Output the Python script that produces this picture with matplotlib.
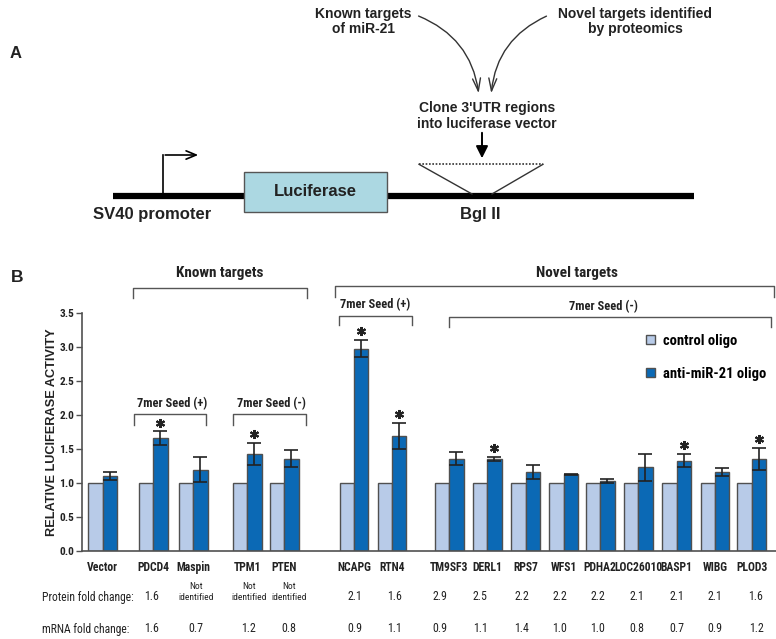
import matplotlib
matplotlib.use('Agg')
import matplotlib.pyplot as plt
from matplotlib.patches import Rectangle, FancyArrowPatch, Patch
from matplotlib import font_manager as fm
import numpy as np

# pick a condensed family if one is installed, otherwise shrink a regular one
_names = {f.name for f in fm.fontManager.ttflist}
NARROW_NAME, SC = 'Liberation Sans', 0.82
for _cand in ['Liberation Sans Narrow', 'Roboto Condensed', 'Arial Narrow', 'Open Sans Condensed']:
    if _cand in _names:
        NARROW_NAME, SC = _cand, 1.0
        break
NARROW = [NARROW_NAME, 'DejaVu Sans']
WIDE = ['Liberation Sans', 'DejaVu Sans']
plt.rcParams['font.family'] = NARROW

# ---------------- data ----------------
genes = ["Vector", "PDCD4", "Maspin", "TPM1", "PTEN", "NCAPG", "RTN4",
         "TM9SF3", "DERL1", "RPS7", "WFS1", "PDHA2", "LOC26010", "BASP1",
         "WIBG", "PLOD3"]
control_oligo = [1.0] * 16
anti_mir21 = [1.10, 1.66, 1.20, 1.43, 1.36, 2.98, 1.69,
              1.36, 1.36, 1.16, 1.13, 1.03, 1.23, 1.33, 1.16, 1.36]
anti_err = [0.06, 0.10, 0.19, 0.16, 0.13, 0.13, 0.19,
            0.10, 0.03, 0.10, 0.01, 0.03, 0.20, 0.10, 0.06, 0.16]
significant = [False, True, False, True, False, True, True,
               False, True, False, False, False, False, True, False, True]
protein_fold = ["", "1.6", "Not\nidentified", "Not\nidentified", "Not\nidentified",
                "2.1", "1.6", "2.9", "2.5", "2.2", "2.2", "2.2", "2.1", "2.1", "2.1", "1.6"]
mrna_fold = ["", "1.6", "0.7", "1.2", "0.8", "0.9", "1.1", "0.9", "1.1", "1.4",
             "1.0", "1.0", "0.8", "0.7", "0.9", "1.2"]
yticks = [0.0, 0.5, 1.0, 1.5, 2.0, 2.5, 3.0, 3.5]

# ---------------- layout (pixel space) ----------------
W, H = 776, 639
group_x = np.array([102.7, 153.3, 193.3, 247.3, 284.3, 354.0, 392.0,
                    449.3, 487.3, 525.7, 563.7, 600.3, 638.3, 676.7, 715.0, 751.7])
table_x = [0, 152, 196, 249, 289, 355, 395, 440, 480, 522, 560, 598, 637, 677, 715, 756]
bw = 14.3
ax_left, ax_right, ax_top, ax_bottom = 81.7, 776.0, 313.3, 551.0

CTRL = '#b8cbe8'
ANTI = '#0b69b5'
EDGE = '#505050'
TXT = '#222222'

fig = plt.figure(figsize=(W / 100, H / 100), dpi=100)

# overlay for schematic and annotations (pixel coords)
ov = fig.add_axes([0, 0, 1, 1])
ov.set_xlim(0, W)
ov.set_ylim(H, 0)
ov.axis('off')

# ---------- Panel A ----------
ov.text(16, 53, 'A', fontsize=12, fontweight='bold', family=WIDE, ha='center', va='center', color=TXT)
ov.text(363, 21.5, 'Known targets\nof miR-21', fontsize=10, fontweight='bold', family=WIDE,
        ha='center', va='center', linespacing=1.15, color=TXT)
ov.text(635, 21.5, 'Novel targets identified\nby proteomics', fontsize=10, fontweight='bold', family=WIDE,
        ha='center', va='center', linespacing=1.15, color=TXT)
for (p0, p1, rad) in [((416, 15), (479, 96), -0.3), ((549, 15), (491, 96), 0.3)]:
    ov.add_patch(FancyArrowPatch(p0, p1, connectionstyle=f'arc3,rad={rad}',
                                 arrowstyle='->,head_length=0.7,head_width=0.22',
                                 mutation_scale=13, lw=1.0, color='#333333'))
ov.text(487, 116, "Clone 3'UTR regions\ninto luciferase vector", fontsize=10, fontweight='bold',
        family=WIDE, ha='center', va='center', linespacing=1.15, color=TXT)
ov.add_patch(FancyArrowPatch((482, 130), (482, 161), arrowstyle='-|>,head_length=0.6,head_width=0.3',
                             mutation_scale=12, lw=1.4, color='black'))
ov.plot([112.5, 694], [195.7, 195.7], color='black', lw=4.5, solid_capstyle='butt', zorder=2)
ov.add_patch(Rectangle((243.5, 171.7), 143, 40, fc='#acd8e2', ec='#555555', lw=1.0, zorder=3))
ov.text(315, 191.5, 'Luciferase', fontsize=12, fontweight='bold', family=WIDE, ha='center', va='center',
        color=TXT, zorder=4)
ov.plot([163, 163], [194, 155], color='black', lw=1.2)
ov.add_patch(FancyArrowPatch((162.4, 155), (201, 155), arrowstyle='->,head_length=0.6,head_width=0.25',
                             mutation_scale=12, lw=1.2, color='black'))
ov.text(152, 215, 'SV40 promoter', fontsize=12, fontweight='bold', family=WIDE, ha='center', va='center', color=TXT)
ov.text(480, 214, 'Bgl II', fontsize=12, fontweight='bold', family=WIDE, ha='center', va='center', color=TXT)
ov.plot([419, 543], [164.3, 164.3], color='#333333', lw=1.2, ls=(0, (1, 1)))
ov.plot([419, 472], [164.3, 194], color='#333333', lw=1.0)
ov.plot([543, 492], [164.3, 194], color='#333333', lw=1.0)

# ---------- Panel B annotations ----------
ov.text(17, 277, 'B', fontsize=12.5, fontweight='bold', family=WIDE, ha='center', va='center', color=TXT)


def bracket(x0, x1, ytop, ybot):
    ov.plot([x0, x0, x1, x1], [ybot, ytop, ytop, ybot], color='#555555', lw=1.0)


bracket(133.3, 306.7, 287.7, 297.7)
ov.text(220, 273, 'Known targets', fontsize=11 * SC, fontweight='bold', ha='center', va='center', color=TXT)
bracket(335, 774, 285.7, 297)
ov.text(577, 273, 'Novel targets', fontsize=11 * SC, fontweight='bold', ha='center', va='center', color=TXT)

for x0, x1, yt, yb, tx, ty, lab in [
        (134.3, 206, 414, 425, 172.5, 403.3, '7mer Seed (+)'),
        (233, 305.7, 414, 425, 271.7, 403.3, '7mer Seed (-)'),
        (339.3, 411.7, 315.7, 325, 375, 305, '7mer Seed (+)'),
        (449, 771, 316.7, 327, 603.3, 306.7, '7mer Seed (-)')]:
    bracket(x0, x1, yt, yb)
    ov.text(tx, ty, lab, fontsize=9 * SC, fontweight='bold', ha='center', va='center', color=TXT)

# table rows
ov.text(42, 598, 'Protein fold change:', fontsize=8.4 * SC, ha='left', va='center', color=TXT)
ov.text(42, 630, 'mRNA fold change:', fontsize=8.4 * SC, ha='left', va='center', color=TXT)
for x, p, m in zip(table_x, protein_fold, mrna_fold):
    if '\n' in p:
        ov.text(x, 592, p, fontsize=6.8 * SC, ha='center', va='center', linespacing=1.25, color=TXT)
    else:
        ov.text(x, 597, p, fontsize=8.6 * SC, ha='center', va='center', color=TXT)
    ov.text(x, 629, m, fontsize=8.6 * SC, ha='center', va='center', color=TXT)

# ---------- bar chart ----------
ax = fig.add_axes([ax_left / W, (H - ax_bottom) / H, (ax_right - ax_left) / W, (ax_bottom - ax_top) / H])
ax.patch.set_alpha(0)
ax.set_xlim(ax_left, ax_right)
ax.set_ylim(0, 3.5)
ax.bar(group_x - bw / 2, control_oligo, width=bw, color=CTRL, edgecolor=EDGE, lw=1.0,
       label='control oligo', zorder=2)
ax.bar(group_x + bw / 2, anti_mir21, width=bw, color=ANTI, edgecolor=EDGE, lw=1.0,
       label='anti-miR-21 oligo', zorder=2)
ax.errorbar(group_x + bw / 2, anti_mir21, yerr=anti_err, fmt='none', ecolor='#222222',
            elinewidth=1.2, capsize=5, capthick=1.2, zorder=3)
sig_x = [x + bw / 2 for x, s in zip(group_x, significant) if s]
sig_y = [a + e + 0.13 for a, e, s in zip(anti_mir21, anti_err, significant) if s]
ax.plot(sig_x, sig_y, ls='none', marker=(6, 2, 0), ms=6.5, mew=1.5, color='#222222', zorder=4)

for sp in ['top', 'right']:
    ax.spines[sp].set_visible(False)
for sp in ['left', 'bottom']:
    ax.spines[sp].set_color(EDGE)
    ax.spines[sp].set_linewidth(1.2)
ax.set_yticks(yticks)
ax.set_yticklabels([f'{v:.1f}' for v in yticks], fontsize=8.2 * SC, fontweight='bold', color=TXT)
ax.tick_params(axis='y', length=4, width=1.0, color=EDGE, pad=1.5)
ax.set_xticks(group_x)
ax.set_xticklabels(genes, fontsize=8.4 * SC, fontweight='bold', color=TXT)
ax.tick_params(axis='x', length=0, pad=7)
ax.set_ylabel('RELATIVE LUCIFERASE ACTIVITY', fontsize=9.2, fontweight='bold', family=WIDE,
              color=TXT, labelpad=1)

ax.legend(handles=[Patch(fc=CTRL, ec=EDGE, lw=1.0, label='control oligo'),
                   Patch(fc=ANTI, ec=EDGE, lw=1.0, label='anti-miR-21 oligo')],
          loc='upper left', bbox_to_anchor=(646 / W, 1 - 334 / H), bbox_transform=fig.transFigure,
          frameon=False, borderaxespad=0, borderpad=0,
          handlelength=0.6, handleheight=0.6, handletextpad=0.55, labelspacing=1.3,
          prop={'weight': 'bold', 'size': 10.5 * SC})

fig.savefig('out.png', dpi=100)
